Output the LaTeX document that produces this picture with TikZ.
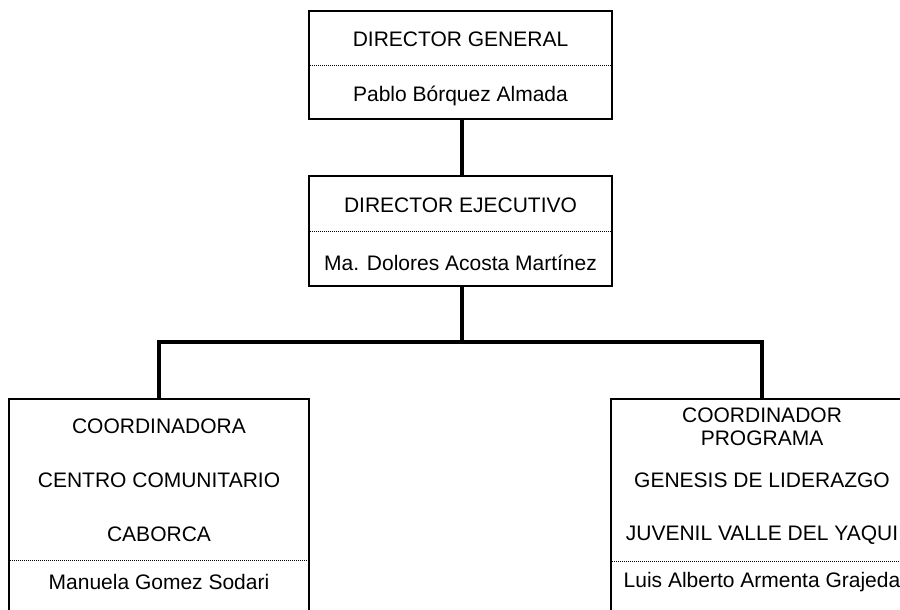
\documentclass[tikz,border=0pt]{standalone}
\usepackage{fontspec}
\setmainfont{Liberation Sans}
\begin{document}
\begin{tikzpicture}[x=1pt,y=-1pt,
  box/.style={draw,line width=2pt,inner sep=0pt},
  lbl/.style={anchor=base,inner sep=0pt,font=\fontsize{21}{24}\selectfont},
  sep/.style={line width=1pt,dash pattern=on 1pt off 1pt},
  conn/.style={line width=4.5pt}]
\useasboundingbox (0,0) rectangle (900,610);
\clip (0,0) rectangle (900,610);
% boxes
\node[box,minimum width=303pt,minimum height=108pt] (dg) at (460.5,65) {};
\node[box,minimum width=303pt,minimum height=110pt] (de) at (460.5,231) {};
\node[box,minimum width=300pt,minimum height=240pt] (cl) at (159,519) {};
\node[box,minimum width=302pt,minimum height=240pt] (cr) at (762,519) {};
% separators
\draw[sep] (dg.west |- 0,66) -- (dg.east |- 0,66);
\draw[sep] (de.west |- 0,231) -- (de.east |- 0,231);
\draw[sep] (cl.west |- 0,560) -- (cl.east |- 0,560);
\draw[sep] (cr.west |- 0,561) -- (cr.east |- 0,561);
% texts
\node[lbl] (t1) at (460.5,47) {DIRECTOR GENERAL};
\node[lbl] (t2) at (460.5,101) {Pablo Bórquez Almada};
\node[lbl] (t3) at (460.5,212) {DIRECTOR EJECUTIVO};
\node[lbl] (t4) at (460.5,270) {Ma. Dolores Acosta Martínez};
\node[lbl] (t5) at (159,433) {COORDINADORA};
\node[lbl] (t6) at (159,487) {CENTRO COMUNITARIO};
\node[lbl] (t7) at (159,541) {CABORCA};
\node[lbl] (t8) at (159,589) {Manuela Gomez Sodari};
\node[lbl] (t9) at (762,422) {COORDINADOR};
\node[lbl] (t10) at (762,445) {PROGRAMA};
\node[lbl] (t11) at (762,487) {GENESIS DE LIDERAZGO};
\node[lbl] (t12) at (762,540) {JUVENIL VALLE DEL YAQUI};
\node[lbl] (t13) at (762,587) {Luis Alberto Armenta Grajeda};
% connectors
\coordinate (j) at (462,342);
\draw[conn] (dg.south -| j) -- (de.north -| j);
\draw[conn] (de.south -| j) -- (j);
\draw[conn] (cl.north) |- (j) -| (cr.north);
\end{tikzpicture}
\end{document}
